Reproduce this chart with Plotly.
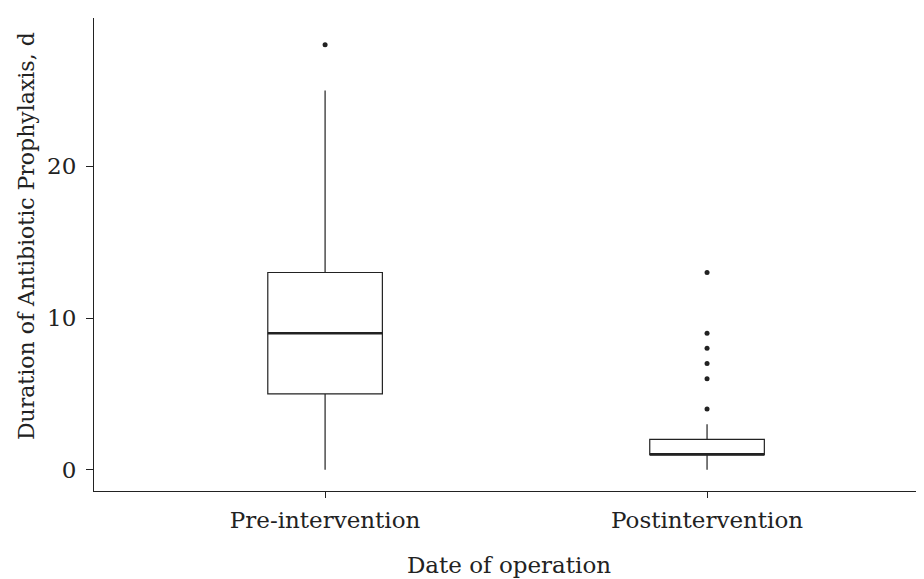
import plotly.graph_objects as go

categories = ["Pre-intervention", "Postintervention"]
q1 = [5, 1]
median = [9, 1]
q3 = [13, 2]
lower_whisker = [0, 0]
upper_whisker = [25, 3]
outliers = [[28], [4, 6, 7, 8, 9, 13]]

x_title = "Date of operation"
y_title = "Duration of Antibiotic Prophylaxis, d"

box_w = 0.3
FONT = "DejaVu Serif"
FS = 23
ink = "#222222"

fig = go.Figure()
xs = list(range(len(categories)))
fig.add_trace(go.Box(
    x=xs, q1=q1, median=median, q3=q3,
    lowerfence=lower_whisker, upperfence=upper_whisker,
    width=box_w, whiskerwidth=0,
    fillcolor="white", line=dict(color=ink, width=1.2),
    showlegend=False, boxpoints=False, hoverinfo="skip",
))
# thicker median lines
for i, m in enumerate(median):
    fig.add_trace(go.Scatter(
        x=[i - box_w / 2, i + box_w / 2], y=[m, m], mode="lines",
        line=dict(color=ink, width=2.5), showlegend=False, hoverinfo="skip",
    ))
# outliers
ox, oy = [], []
for i, vals in enumerate(outliers):
    ox += [i] * len(vals)
    oy += vals
fig.add_trace(go.Scatter(
    x=ox, y=oy, mode="markers",
    marker=dict(color=ink, size=5), showlegend=False, hoverinfo="skip",
))

# page body adds an 8px offset; compensate
fig.update_layout(
    width=916, height=571,
    margin=dict(l=86, r=0, t=10, b=88),
    plot_bgcolor="white", paper_bgcolor="white",
    font=dict(family=FONT, size=FS, color=ink),
    annotations=[dict(
        text=y_title, textangle=-90, xref="paper", yref="paper",
        x=-0.0819, y=0.539, xanchor="center", yanchor="middle",
        showarrow=False, font=dict(size=FS - 1),
    )],
)
fig.update_xaxes(
    range=[-0.605, 1.568], tickvals=xs, ticktext=categories,
    showline=True, linecolor=ink, linewidth=1.2, mirror=False,
    ticks="outside", ticklen=6, tickcolor=ink, tickwidth=1.2,
    ticklabelstandoff=2,
    showgrid=False, zeroline=False, automargin=False,
    title=dict(text=x_title, font=dict(size=FS), standoff=25),
    tickfont=dict(size=FS),
)
fig.update_yaxes(
    range=[-1.4, 29.77], tickvals=[0, 10, 20],
    showline=True, linecolor=ink, linewidth=1.2,
    ticks="outside", ticklen=7, tickcolor=ink, tickwidth=1.2,
    ticklabelstandoff=5,
    showgrid=False, zeroline=False, automargin=False,
    tickfont=dict(size=FS),
)

fig.write_html("out.html")
